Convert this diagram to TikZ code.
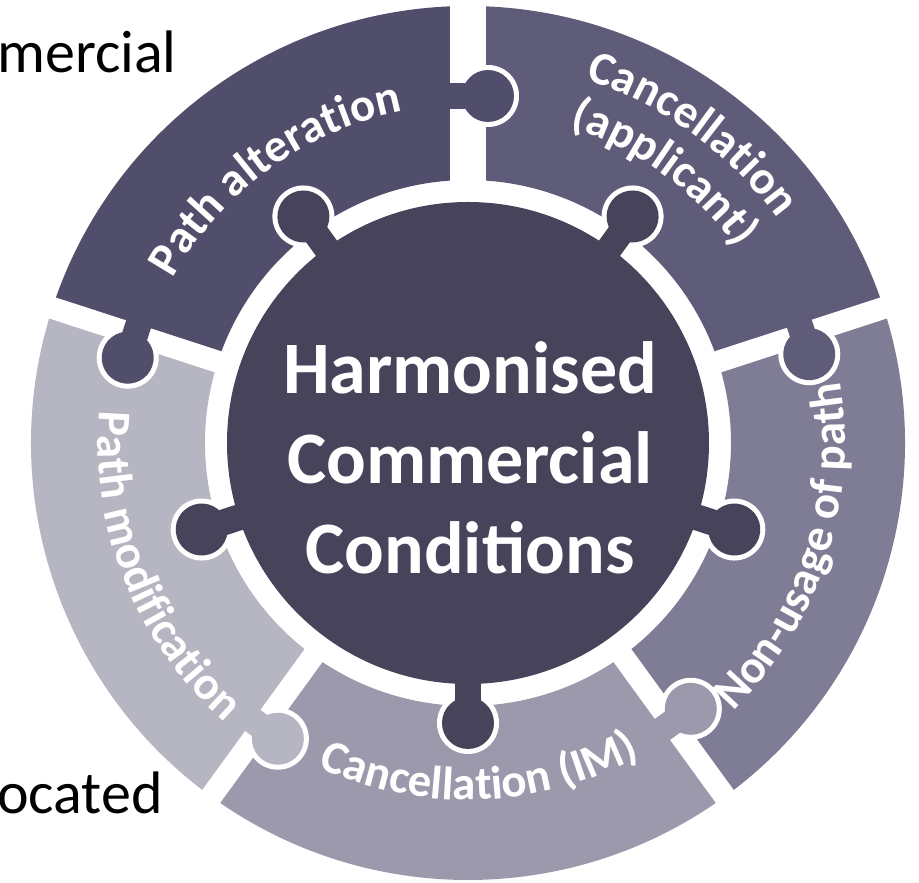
\documentclass[tikz,border=0pt]{standalone}
\usepackage{fontspec}
\setmainfont{Carlito}
\usepackage{tikz}
\usetikzlibrary{decorations.text}

\definecolor{centro}{HTML}{46435A}
\definecolor{alteracion}{HTML}{514E6C}
\definecolor{solicitante}{HTML}{5F5C7A}
\definecolor{nouso}{HTML}{7F7D95}
\definecolor{cancelim}{HTML}{9B99AB}
\definecolor{modificacion}{HTML}{B6B5C2}
\newcommand{\letraanillo}{\bfseries\fontsize{47}{47}\selectfont}

\tikzset{rotulo/.style={decoration={text along path, text align=center, text color=white, text={|\letraanillo|#1}}, decorate}}

\begin{document}
\begin{tikzpicture}[x=1pt,y=1pt]
        \useasboundingbox (-468,-440) rectangle (451,443);

        %circulo central
        \fill[centro] (0,0) circle (241);

        %piezas del anillo
        \fill[alteracion] (90:263) arc (90:162:263) -- (162:437) arc (162:90:437) -- cycle;
        \fill[solicitante] (18:263) arc (18:90:263) -- (90:437) arc (90:18:437) -- cycle;
        \fill[nouso] (-54:263) arc (-54:18:263) -- (18:437) arc (18:-54:437) -- cycle;
        \fill[cancelim] (-126:263) arc (-126:-54:263) -- (-54:437) arc (-54:-126:437) -- cycle;
        \fill[modificacion] (162:263) arc (162:234:263) -- (234:437) arc (234:162:437) -- cycle;

        %separaciones entre piezas
        \draw[white, line width=36pt] (90:250) -- (90:450);
        \draw[white, line width=22pt] (18:250) -- (18:450);
        \draw[white, line width=22pt] (-54:250) -- (-54:450);
        \draw[white, line width=22pt] (-126:250) -- (-126:450);
        \draw[white, line width=22pt] (162:250) -- (162:450);

        %pestanas del circulo central
        \begin{scope}[rotate=126]
            \fill[white] (280,0) circle (31);
            \fill[centro] (230,-13) rectangle (280,13);
            \fill[centro] (280,0) circle (26);
        \end{scope}
        \begin{scope}[rotate=54]
            \fill[white] (280,0) circle (31);
            \fill[centro] (230,-13) rectangle (280,13);
            \fill[centro] (280,0) circle (26);
        \end{scope}
        \begin{scope}[rotate=-18]
            \fill[white] (280,0) circle (31);
            \fill[centro] (230,-13) rectangle (280,13);
            \fill[centro] (280,0) circle (26);
        \end{scope}
        \begin{scope}[rotate=-90]
            \fill[white] (280,0) circle (31);
            \fill[centro] (230,-13) rectangle (280,13);
            \fill[centro] (280,0) circle (26);
        \end{scope}
        \begin{scope}[rotate=198]
            \fill[white] (280,0) circle (31);
            \fill[centro] (230,-13) rectangle (280,13);
            \fill[centro] (280,0) circle (26);
        \end{scope}

        %pestanas entre piezas
        \begin{scope}[rotate=90]
            \fill[white] (347,-20) circle (31);
            \fill[alteracion] (334,19) rectangle (360,-20);
            \fill[alteracion] (347,-20) circle (26);
        \end{scope}
        \begin{scope}[rotate=162]
            \fill[white] (350,24) circle (31);
            \fill[alteracion] (337,-12) rectangle (363,24);
            \fill[alteracion] (350,24) circle (26);
        \end{scope}
        \begin{scope}[rotate=18]
            \fill[white] (352,-21) circle (31);
            \fill[solicitante] (339,12) rectangle (365,-21);
            \fill[solicitante] (352,-21) circle (26);
        \end{scope}
        \begin{scope}[rotate=-54]
            \fill[white] (346,24) circle (31);
            \fill[cancelim] (333,-12) rectangle (359,24);
            \fill[cancelim] (346,24) circle (26);
        \end{scope}
        \begin{scope}[rotate=-126]
            \fill[white] (351,20) circle (31);
            \fill[modificacion] (338,-12) rectangle (364,20);
            \fill[modificacion] (351,20) circle (26);
        \end{scope}

        %textos de cada pieza
        \path[rotulo={Path alteration}] (162:338) arc (162:90:338);
        \path[rotulo={Cancellation}] (90:382) arc (90:18:382);
        \path[rotulo={(applicant)}] (90:332) arc (90:18:332);
        \path[rotulo={Non-usage of path}] (-54:377) arc (-54:18:377);
        \path[rotulo={Cancellation (IM)}] (-124:357) arc (-124:-52:357);
        \path[rotulo={Path modification}] (166:370) arc (166:238:370);

        %texto central
        \node[text=white, font=\bfseries\fontsize{74}{90}\selectfont, align=center, inner sep=0] (titulo) at (2,-15) {Harmonised\\Commercial\\Conditions};

        %palabras cortadas del borde
        \node[anchor=base west, inner sep=0, font=\fontsize{60}{60}\selectfont] (arriba) at (-471,370) {mercial};
        \node[anchor=base west, inner sep=0, font=\fontsize{60}{60}\selectfont] (abajo) at (-471,-370) {ocated};
    \end{tikzpicture}
\end{document}
